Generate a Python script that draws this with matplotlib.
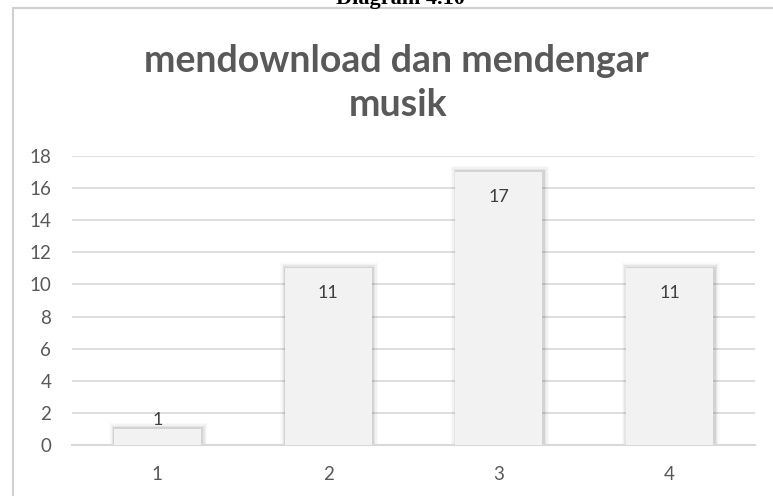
#!/usr/bin/env python3
"""Bar chart: mendownload dan mendengar musik (Diagram 4.10)."""

import matplotlib

matplotlib.use("Agg")
import matplotlib.pyplot as plt
from matplotlib.lines import Line2D

categories = ["1", "2", "3", "4"]
values = [1, 11, 17, 11]
y_ticks = [0, 2, 4, 6, 8, 10, 12, 14, 16, 18]

TEXT = "#595959"
GRID = "#D9D9D9"
BAR = "#F2F2F2"

W, H = 773, 496


def main() -> None:
    plt.rcParams["font.family"] = ["Lato", "DejaVu Sans"]
    fig = plt.figure(figsize=(W / 100, H / 100), dpi=100)
    fig.patch.set_facecolor("white")

    left, right, bottom, top = 72, 755, 445, 156
    ax = fig.add_axes([left / W, 1 - bottom / H, (right - left) / W, (bottom - top) / H])
    x = list(range(len(categories)))

    # soft shadow behind bars
    for i, a in enumerate([0.07, 0.05, 0.03, 0.02]):
        grow = 0.008 * (i + 1)
        ax.bar([xx + 0.006 for xx in x], [v + 0.1 * (i + 1) for v in values],
               width=0.51 + 2 * grow, color="black", alpha=a, zorder=2, linewidth=0)
    ax.bar(x, values, width=0.51, color=BAR, zorder=3, linewidth=0)

    for xx, v in zip(x, values):
        dy = -25 if v >= 3 else 9
        ax.annotate(str(v), (xx, v), xytext=(0, dy), textcoords="offset pixels",
                    ha="center", va="center", fontsize=13, color="#404040", zorder=4)

    ax.set_xlim(-0.5, len(categories) - 0.5)
    ax.set_ylim(0, 18)
    ax.set_yticks(y_ticks)
    ax.set_xticks(x)
    ax.set_xticklabels(categories)
    ax.yaxis.grid(True, color=GRID, lw=1.2, zorder=0)
    ax.set_axisbelow(True)
    for s in ["top", "right", "left"]:
        ax.spines[s].set_visible(False)
    ax.spines["bottom"].set_color(GRID)
    ax.spines["bottom"].set_linewidth(1.5)
    ax.tick_params(axis="both", length=0, colors=TEXT, labelsize=13.5)
    ax.tick_params(axis="y", pad=15)
    ax.tick_params(axis="x", pad=15)

    # chart frame (left and top edges visible)
    fig.add_artist(Line2D([12.5 / W, 12.5 / W], [0, 1 - 8 / H], color="#D0D0D0", lw=1.5))
    fig.add_artist(Line2D([12.5 / W, 1], [1 - 8 / H, 1 - 8 / H], color="#D0D0D0", lw=1.5))

    fig.text(396 / W, 1 - 61 / H, "mendownload dan mendengar", ha="center", va="center",
             fontsize=27, fontweight="bold", color=TEXT)
    fig.text(398 / W, 1 - 105 / H, "musik", ha="center", va="center",
             fontsize=27, fontweight="bold", color=TEXT)
    fig.text(400 / W, 1 - 4 / H, "Diagram 4.10", ha="center", va="baseline",
             fontsize=16, fontweight="bold", color="black", family=["Liberation Serif"])

    fig.savefig("out.png", dpi=100, facecolor="white")
    plt.close(fig)


if __name__ == "__main__":
    main()
